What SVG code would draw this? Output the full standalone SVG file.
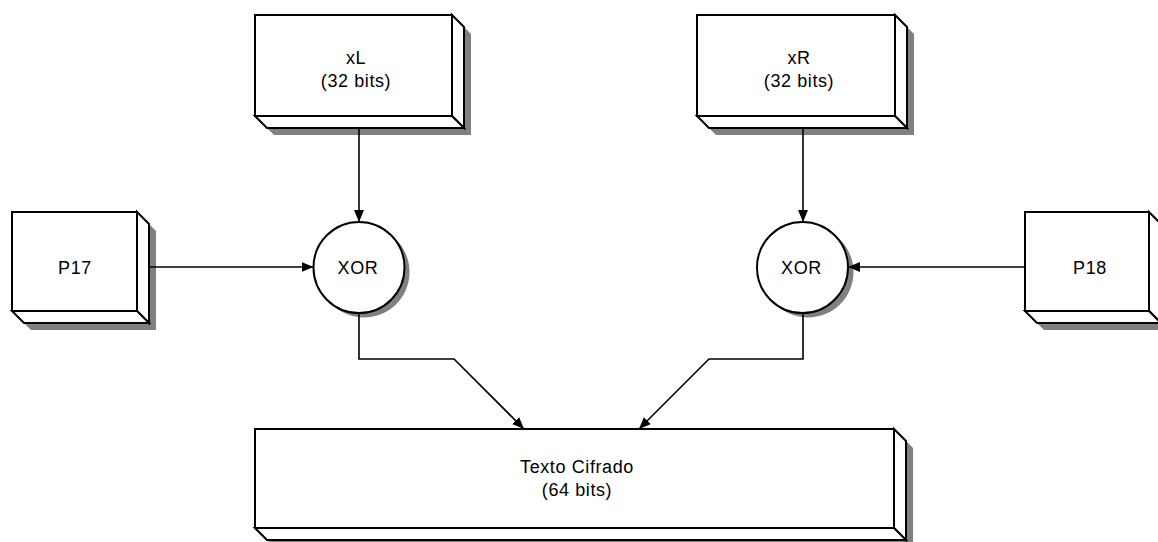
<svg xmlns="http://www.w3.org/2000/svg" width="1158" height="542" viewBox="0 0 1158 542">
<style>
.face{fill:#fff;stroke:#000;stroke-width:2;stroke-linejoin:miter}
.shadow{fill:#808080;stroke:none}
.conn{fill:none;stroke:#000;stroke-width:1.6}
text{font-family:"Liberation Sans",Arial,sans-serif;font-size:18px;letter-spacing:0.6px;fill:#000;text-anchor:middle}
</style>
<defs>
<marker id="arr" viewBox="0 0 12 10" refX="12" refY="5" markerWidth="12" markerHeight="10" markerUnits="userSpaceOnUse" orient="auto">
<path d="M0,0 L12,5 L0,10 z" fill="#000"/>
</marker>
</defs>
<rect width="1158" height="542" fill="#fff"/>

<g id="xL">
<polygon class="shadow" points="262,22 459,22 471,34 471,135 274,135 262,123"/>
<polygon class="face" points="452,15 464,27 464,128 452,116"/>
<polygon class="face" points="255,116 452,116 464,128 267,128"/>
<rect class="face" x="255" y="15" width="197" height="101"/>
<text x="356" y="64">xL</text>
<text x="356" y="87">(32 bits)</text>
</g>

<g id="xR">
<polygon class="shadow" points="704,22 902,22 914,34 914,135 716,135 704,123"/>
<polygon class="face" points="895,15 907,27 907,128 895,116"/>
<polygon class="face" points="697,116 895,116 907,128 709,128"/>
<rect class="face" x="697" y="15" width="198" height="101"/>
<text x="799" y="64">xR</text>
<text x="799" y="87">(32 bits)</text>
</g>

<g id="P17">
<polygon class="shadow" points="19,219 144,219 156,231 156,330 31,330 19,318"/>
<polygon class="face" points="137,212 149,224 149,323 137,311"/>
<polygon class="face" points="12,311 137,311 149,323 24,323"/>
<rect class="face" x="12" y="212" width="125" height="99"/>
<text x="75" y="274">P17</text>
</g>

<g id="P18">
<polygon class="shadow" points="1032,219 1156,219 1168,231 1168,330 1044,330 1032,318"/>
<polygon class="face" points="1149,212 1161,224 1161,323 1149,311"/>
<polygon class="face" points="1025,311 1149,311 1161,323 1037,323"/>
<rect class="face" x="1025" y="212" width="124" height="99"/>
<text x="1090" y="274">P18</text>
</g>

<g id="xorL">
<circle class="shadow" cx="364" cy="272" r="45.5"/>
<circle class="face" cx="359" cy="267.5" r="45.5"/>
<text x="358" y="274">XOR</text>
</g>

<g id="xorR">
<circle class="shadow" cx="808" cy="272" r="45.5"/>
<circle class="face" cx="802.5" cy="267.5" r="45.5"/>
<text x="801.5" y="274">XOR</text>
</g>

<g id="texto">
<polygon class="shadow" points="262,436 901,436 913,448 913,547 274,547 262,535"/>
<polygon class="face" points="894,429 906,441 906,540 894,528"/>
<polygon class="face" points="255,528 894,528 906,540 267,540"/>
<rect class="face" x="255" y="429" width="639" height="99"/>
<text x="577" y="473">Texto Cifrado</text>
<text x="577" y="496">(64 bits)</text>
</g>

<g id="connectors">
<path class="conn" d="M359,128 L359,222" marker-end="url(#arr)"/>
<path class="conn" d="M803,128 L803,222" marker-end="url(#arr)"/>
<path class="conn" d="M149,267 L313.5,267" marker-end="url(#arr)"/>
<path class="conn" d="M1025,267 L848,267" marker-end="url(#arr)"/>
<path class="conn" d="M359,313 L359,359 L454,359 L524,429" marker-end="url(#arr)"/>
<path class="conn" d="M803,313 L803,359 L709,359 L639,429" marker-end="url(#arr)"/>
</g>
</svg>
